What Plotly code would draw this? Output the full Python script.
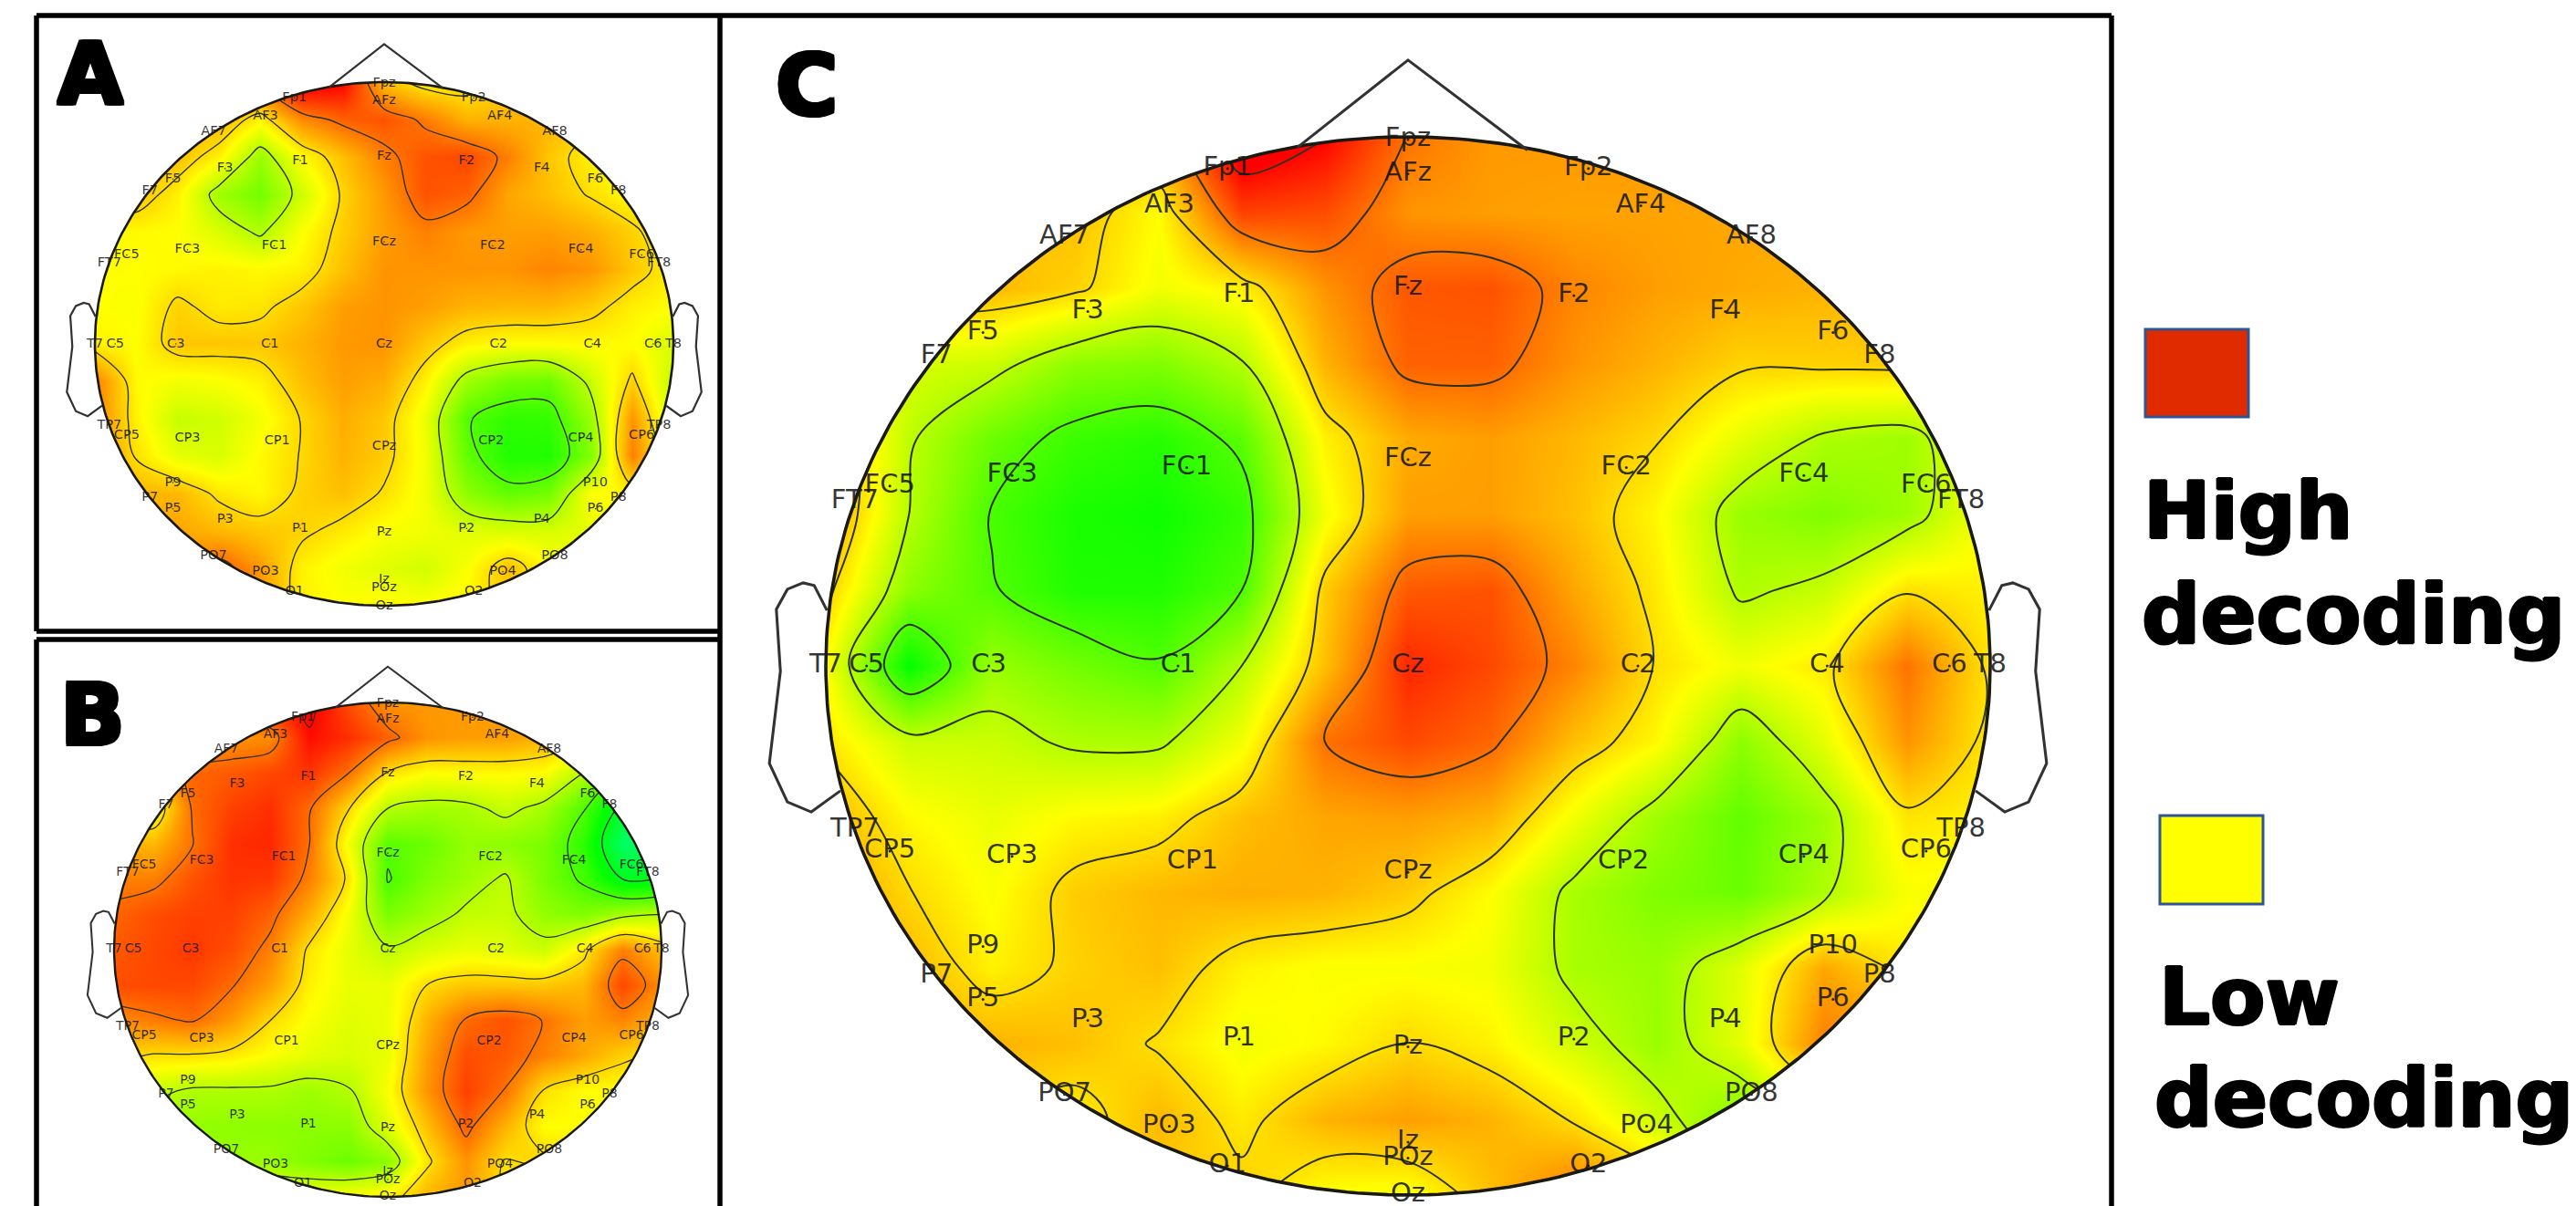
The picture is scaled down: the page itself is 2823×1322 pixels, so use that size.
import plotly.graph_objects as go
import numpy as np

W, H = 2823, 1322

electrode_names = ["Fp1","Fpz","Fp2","AF7","AF3","AFz","AF4","AF8","F7","F5","F3","F1","Fz","F2","F4","F6","F8",
                   "FT7","FC5","FC3","FC1","FCz","FC2","FC4","FC6","FT8","T7","C5","C3","C1","Cz","C2","C4","C6","T8",
                   "TP7","CP5","CP3","CP1","CPz","CP2","CP4","CP6","TP8","P9","P7","P5","P3","P1","Pz","P2","P4","P6","P8","P10",
                   "PO7","PO3","POz","PO4","PO8","O1","Oz","O2","Iz"]
electrode_x = [-.31,0,.31,-.59,-.41,0,.40,.59,-.81,-.73,-.55,-.29,0,.285,.545,.73,.81,
               -.95,-.89,-.68,-.38,0,.375,.68,.89,.95,-1.0,-.93,-.72,-.395,0,.395,.72,.93,1.0,
               -.95,-.89,-.68,-.37,0,.37,.68,.89,.95,-.73,-.81,-.73,-.55,-.29,0,.285,.545,.73,.81,.73,
               -.59,-.41,0,.41,.59,-.31,0,.31,0]
electrode_y = [.94,.995,.94,.81,.87,.93,.87,.81,.585,.63,.67,.70,.715,.70,.67,.63,.585,
               .31,.34,.36,.375,.39,.375,.36,.34,.31,0,0,0,0,0,0,0,0,0,
               -.31,-.35,-.36,-.37,-.39,-.37,-.36,-.35,-.31,-.53,-.585,-.63,-.67,-.705,-.72,-.705,-.67,-.63,-.585,-.53,
               -.81,-.87,-.93,-.87,-.81,-.945,-1.0,-.945,-.90]

# decoding surface on a 15 x 15 grid (rows top to bottom); 0 green, 1 yellow, 2 red
grid_x = [-1, -6/7, -5/7, -4/7, -3/7, -2/7, -1/7, 0, 1/7, 2/7, 3/7, 4/7, 5/7, 6/7, 1]
grid_y = [1, 6/7, 5/7, 4/7, 3/7, 2/7, 1/7, 0, -1/7, -2/7, -3/7, -4/7, -5/7, -6/7, -1]

panel_a_z = [
 [1.3,1.3,1.3,1.3,1.6,2.1,2.0,1.25,1.05,1.05,1.2,1.3,1.3,1.2,1.1],
 [1.3,1.3,1.3,1.3,1.05,1.45,1.62,1.68,1.52,1.3,1.3,1.3,1.2,1.1,1.1],
 [1.2,1.2,1.25,1.05,0.6,1.0,1.25,1.5,1.68,1.72,1.5,1.22,1.05,1.0,1.0],
 [1.2,1.25,1.05,0.62,0.45,0.8,1.17,1.4,1.68,1.62,1.35,1.25,1.12,1.0,1.0],
 [1.0,1.02,1.0,0.85,0.68,0.98,1.2,1.38,1.5,1.4,1.38,1.38,1.32,1.18,1.0],
 [1.0,1.0,1.02,1.05,1.02,1.05,1.25,1.42,1.42,1.42,1.42,1.48,1.42,1.22,1.05],
 [1.0,0.98,1.18,1.08,1.1,1.22,1.38,1.42,1.38,1.3,1.28,1.28,1.2,1.06,1.0],
 [1.05,1.0,1.22,1.22,1.22,1.3,1.4,1.42,1.22,1.05,1.0,1.0,1.02,1.0,0.85],
 [1.5,1.02,0.95,0.98,1.05,1.25,1.38,1.32,1.05,0.62,0.45,0.42,0.78,1.18,0.75],
 [1.5,1.05,0.78,0.82,0.95,1.15,1.32,1.22,0.92,0.32,0.18,0.2,0.6,1.42,0.78],
 [1.5,1.12,0.9,0.85,1.02,1.15,1.3,1.2,0.95,0.38,0.12,0.12,0.5,1.5,0.9],
 [1.3,1.3,1.28,1.1,1.02,1.18,1.25,1.12,0.95,0.55,0.38,0.45,1.0,1.02,1.0],
 [1.3,1.3,1.35,1.28,1.22,1.18,1.08,0.98,0.95,0.88,0.85,0.85,0.9,1.0,1.0],
 [1.4,1.4,1.4,1.65,1.4,1.05,0.95,0.88,0.82,0.98,1.25,1.0,1.0,1.0,1.0],
 [1.4,1.4,1.4,1.5,1.4,1.05,1.0,1.02,1.0,1.05,1.2,1.0,1.0,1.0,1.0],
]
panel_b_z = [
 [1.5,1.5,1.6,1.7,1.85,2.05,1.7,1.42,1.4,1.4,1.4,1.3,1.3,1.2,1.1],
 [1.4,1.4,1.4,1.42,1.45,1.95,1.82,1.62,1.42,1.38,1.38,1.3,1.2,1.1,1.0],
 [1.3,1.4,1.6,1.65,1.72,1.8,1.56,1.12,1.0,1.02,1.02,1.0,0.72,0.3,0.3],
 [1.1,0.95,1.58,1.75,1.82,1.58,1.15,0.72,0.64,0.66,0.78,0.65,0.32,-0.2,-0.4],
 [1.3,1.28,1.55,1.82,1.85,1.56,0.95,0.35,0.42,0.58,0.55,0.48,0.18,-0.45,-0.55],
 [1.5,1.5,1.68,1.8,1.78,1.5,1.1,0.28,0.5,0.62,0.75,0.48,0.26,-0.12,-0.1],
 [1.6,1.7,1.75,1.75,1.62,1.32,0.95,0.48,0.62,0.76,0.78,0.58,0.5,0.65,0.72],
 [1.65,1.72,1.78,1.7,1.5,1.1,0.9,0.75,0.85,0.92,0.88,0.8,1.08,1.5,1.25],
 [1.7,1.72,1.72,1.58,1.38,1.05,0.92,0.92,1.14,1.22,1.22,1.22,1.28,1.72,1.45],
 [1.45,1.52,1.58,1.4,1.14,0.98,0.88,0.92,1.3,1.58,1.68,1.55,1.38,1.48,1.3],
 [1.2,1.12,1.12,1.08,0.98,0.9,0.85,0.92,1.38,1.7,1.65,1.5,1.35,1.18,1.1],
 [0.9,0.78,0.68,0.68,0.68,0.62,0.7,0.98,1.42,1.75,1.55,1.12,1.0,1.0,1.0],
 [0.7,0.6,0.58,0.56,0.55,0.55,0.55,0.88,1.25,1.62,1.3,1.0,1.0,1.0,1.0],
 [0.7,0.6,0.6,0.6,0.6,0.5,0.42,0.55,1.1,1.42,1.12,1.18,1.1,1.0,1.0],
 [0.9,0.9,0.9,0.9,0.9,0.95,1.0,1.05,1.3,1.4,1.1,1.0,1.0,1.0,1.0],
]
panel_c_z = [
 [1.4,1.3,1.2,1.2,1.4,2.2,2.0,1.55,1.4,1.4,1.4,1.4,1.4,1.3,1.3],
 [1.2,1.2,1.2,1.25,1.0,1.75,1.7,1.42,1.38,1.36,1.36,1.35,1.35,1.35,1.3],
 [1.3,1.3,1.28,1.18,0.95,1.05,1.42,1.66,1.68,1.48,1.38,1.33,1.3,1.3,1.3],
 [1.0,0.85,0.8,0.55,0.5,0.7,1.3,1.62,1.62,1.42,1.3,1.17,1.18,1.2,1.2],
 [1.35,0.75,0.42,0.22,0.15,0.35,1.05,1.33,1.38,1.28,1.15,0.9,0.68,0.62,1.0],
 [1.4,0.72,0.28,0.1,0.05,0.2,0.95,1.38,1.38,1.25,1.02,0.6,0.5,0.62,1.0],
 [1.2,0.55,0.32,0.12,0.12,0.3,1.2,1.65,1.68,1.35,1.08,0.68,0.78,1.12,1.05],
 [1.0,0.0,0.6,0.45,0.32,0.72,1.25,1.85,1.72,1.48,1.12,0.95,1.08,1.55,1.1],
 [1.1,0.8,0.8,0.68,0.68,0.95,1.56,1.72,1.6,1.25,1.02,0.55,0.9,1.42,1.08],
 [1.3,1.02,0.92,1.02,1.06,1.25,1.35,1.38,1.3,0.95,0.62,0.38,0.62,1.1,1.05],
 [1.4,1.15,0.98,1.2,1.28,1.32,1.3,1.2,1.0,0.66,0.5,0.42,0.68,0.98,0.95],
 [1.4,1.28,1.05,1.18,1.25,1.05,0.98,0.98,0.95,0.66,0.6,0.88,1.35,1.08,1.1],
 [1.3,1.3,1.3,1.25,1.12,0.95,1.02,1.15,1.05,0.82,0.6,0.9,1.5,1.5,1.4],
 [1.2,1.2,1.15,1.05,1.28,1.08,1.3,1.38,1.3,1.12,0.8,0.5,0.9,1.2,1.3],
 [1.1,1.1,1.1,1.15,1.2,1.2,0.98,0.95,1.25,1.55,1.3,0.7,1.0,1.2,1.3],
]

nose_x = [-0.19, 0, 0.205]
nose_y = [0.98, 1.145, 0.975]
ear_x = [0.998, 1.02, 1.039, 1.066, 1.085, 1.078, 1.097, 1.066, 1.025, 0.975]
ear_y = [0.105, 0.152, 0.157, 0.145, 0.107, -0.01, -0.184, -0.257, -0.276, -0.236]

colorscale = [[0, "rgb(0,255,130)"], [0.6/2.6, "rgb(0,255,0)"], [1.6/2.6, "rgb(255,255,0)"], [1, "rgb(255,0,0)"]]

# centre and radii of each head on the canvas, line weights, label size
panels = [
    dict(z=panel_a_z, ax="", cx=421, cy=377, rx=317, ry=287, lw=1.4, hw=2.6, fs=14.5, ms=1.5),
    dict(z=panel_b_z, ax="2", cx=425, cy=1041, rx=300, ry=271, lw=1.3, hw=2.4, fs=14, ms=1.5),
    dict(z=panel_c_z, ax="3", cx=1543, cy=730, rx=638, ry=580, lw=2.0, hw=3.6, fs=29, ms=3),
]

fig = go.Figure()
layout = {}
theta = np.linspace(2 * np.pi, 0, 361)
for p in panels:
    xa, ya = "x" + p["ax"], "y" + p["ax"]
    xr = [-1.2, 1.2]
    yr = [-min(1.2, (H - p["cy"]) / p["ry"]), 1.2]
    layout["xaxis" + p["ax"]] = dict(
        domain=[(p["cx"] + xr[0] * p["rx"]) / W, (p["cx"] + xr[1] * p["rx"]) / W],
        range=xr, visible=False, fixedrange=True, anchor=ya)
    layout["yaxis" + p["ax"]] = dict(
        domain=[(H - (p["cy"] + p["ry"] * -yr[0])) / H, (H - (p["cy"] - p["ry"] * yr[1])) / H],
        range=yr, visible=False, fixedrange=True, anchor=xa)
    fig.add_trace(go.Contour(
        x=grid_x, y=grid_y, z=p["z"], xaxis=xa, yaxis=ya, showscale=False,
        colorscale=colorscale, zauto=False, zmin=-0.6, zmax=2.0,
        contours=dict(coloring="heatmap", start=-0.54, end=1.98, size=0.42, showlabels=False),
        line=dict(color="rgb(45,50,30)", width=p["lw"], smoothing=1.0), hoverinfo="skip"))
    # white surround that trims the surface to the head
    ex, ey = np.cos(theta), np.sin(theta)
    ring_x = [1.16, 1.16, -1.16, -1.16, 1.16, 1.16] + list(ex) + [1.16]
    ring_y = [0, 1.03, 1.03, -1.06, -1.06, 0] + list(ey) + [0]
    fig.add_trace(go.Scatter(x=ring_x, y=ring_y, xaxis=xa, yaxis=ya, mode="lines", fill="toself",
                             fillcolor="white", line=dict(width=0), hoverinfo="skip", showlegend=False))
    fig.add_trace(go.Scatter(x=ex, y=ey, xaxis=xa, yaxis=ya, mode="lines",
                             line=dict(color="rgb(25,25,15)", width=p["hw"]), hoverinfo="skip", showlegend=False))
    for sx, ox, oy in [(1, nose_x, nose_y), (1, ear_x, ear_y), (-1, ear_x, ear_y)]:
        fig.add_trace(go.Scatter(x=[sx * v for v in ox], y=oy, xaxis=xa, yaxis=ya, mode="lines",
                                 line=dict(color="rgb(50,50,50)", width=p["hw"] * 0.85), hoverinfo="skip", showlegend=False))
    fig.add_trace(go.Scatter(x=electrode_x, y=electrode_y, text=electrode_names, xaxis=xa, yaxis=ya,
                             mode="markers+text", textposition="middle center", cliponaxis=False,
                             marker=dict(size=p["ms"], color="rgb(40,40,40)"),
                             textfont=dict(family="DejaVu Sans", size=p["fs"], color="rgba(25,25,25,0.88)"),
                             hoverinfo="skip", showlegend=False))


def px_x(v):
    return v / W


def px_y(v):
    return 1 - v / H


def rule(x0, y0, x1, y1):
    return dict(type="line", xref="paper", yref="paper", x0=px_x(x0), y0=px_y(y0), x1=px_x(x1), y1=px_y(y1),
                line=dict(color="black", width=5.5), layer="above")


def swatch(x0, y0, x1, y1, color):
    return dict(type="rect", xref="paper", yref="paper", x0=px_x(x0), y0=px_y(y0), x1=px_x(x1), y1=px_y(y1),
                fillcolor=color, line=dict(color="#2F5597", width=3), layer="above")


shapes = [
    rule(40, 17, 2314, 17), rule(40, 17, 40, 692), rule(40, 692, 789, 692),
    rule(40, 701, 789, 701), rule(40, 701, 40, 1322),
    rule(789, 17, 789, 1322), rule(2314, 17, 2314, 1322),
    swatch(2351, 361, 2464, 457, "#E02A00"), swatch(2367, 894, 2480, 991, "#FFFF00"),
]

heavy = "2px 0 0 #000, -2px 0 0 #000, 0 2px 0 #000, 0 -2px 0 #000, 2px 2px 0 #000, -2px -2px 0 #000, 2px -2px 0 #000, -2px 2px 0 #000"
heavy_s = "1.5px 0 0 #000, -1.5px 0 0 #000, 0 1px 0 #000, 0 -1px 0 #000"


def label(text, x, y, size, anchor="left", shadow=heavy):
    return dict(text=text, x=px_x(x), y=px_y(y), xref="paper", yref="paper", xanchor=anchor, yanchor="middle",
                showarrow=False, align="left",
                font=dict(family="DejaVu Sans", size=size, color="black", weight="bold", shadow=shadow))


annotations = [
    label("A", 99, 81, 93, "center"), label("B", 101, 784, 93, "center"), label("C", 884, 94, 93, "center"),
    label("High", 2347, 560, 88, shadow=heavy_s), label("decoding", 2345, 673, 90, shadow=heavy_s),
    label("Low", 2364, 1092, 88, shadow=heavy_s), label("decoding", 2359, 1204, 89, shadow=heavy_s),
]

fig.update_layout(width=W, height=H, margin=dict(l=0, r=0, t=0, b=0), paper_bgcolor="white", plot_bgcolor="rgba(0,0,0,0)",
                  showlegend=False, shapes=shapes, annotations=annotations, **layout)
fig.write_html("out.html", config=dict(displayModeBar=False),
               post_script="document.body.style.margin='0';document.body.style.overflow='hidden';")
